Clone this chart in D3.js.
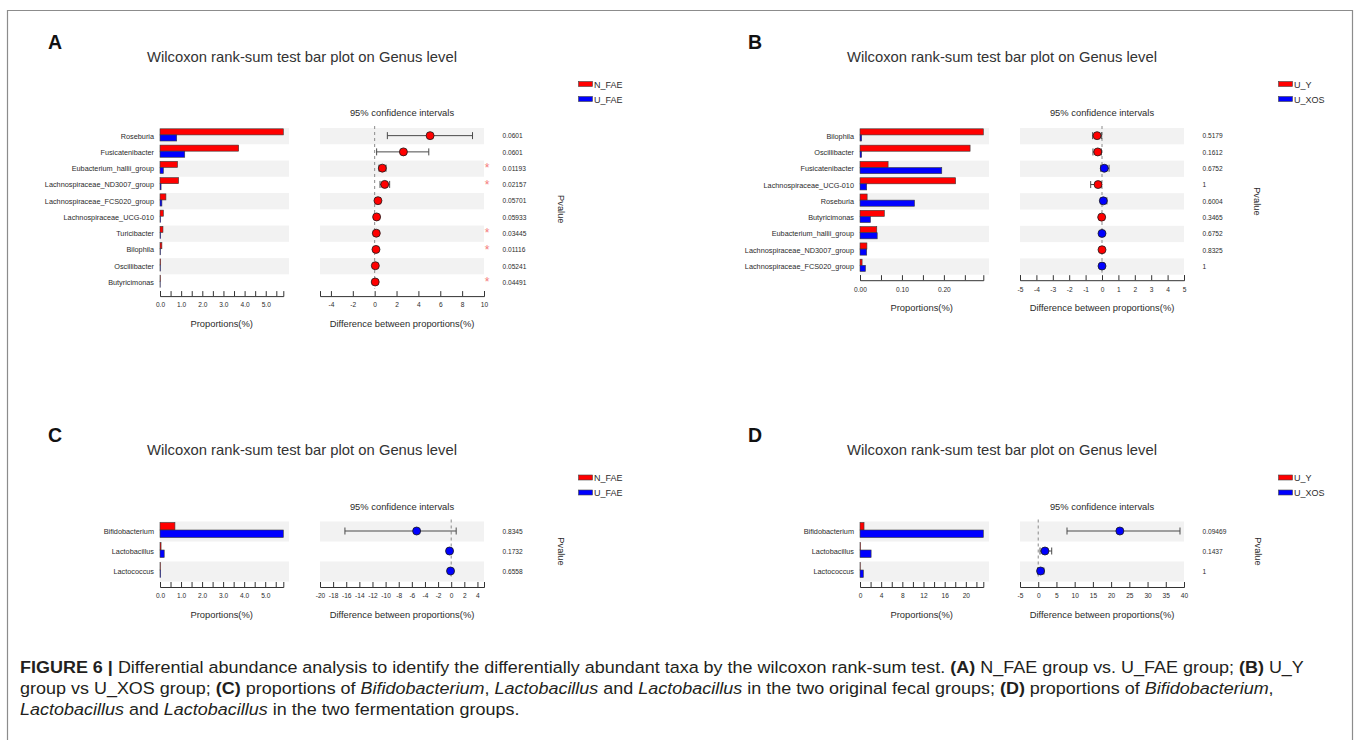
<!DOCTYPE html>
<html>
<head>
<meta charset="utf-8">
<script src="https://cdn.jsdelivr.net/npm/d3@7"></script>
<style>
  html, body { margin: 0; padding: 0; background: #fff; }
  svg { display: block; font-family: "Liberation Sans", Arial, Helvetica, sans-serif; }
</style>
</head>
<body>
<svg id="fig" width="1357" height="740"></svg>
<script>
// ---------- Panel A: N_FAE vs U_FAE (genus level) ----------
const groupsA = ["N_FAE", "U_FAE"];
const genusA = ["Roseburia", "Fusicatenibacter", "Eubacterium_hallii_group", "Lachnospiraceae_ND3007_group",
  "Lachnospiraceae_FCS020_group", "Lachnospiraceae_UCG-010", "Turicibacter", "Bilophila", "Oscillibacter", "Butyricimonas"];
const propA_N = [5.83, 3.72, 0.83, 0.88, 0.28, 0.16, 0.14, 0.09, 0.03, 0.02];
const propA_U = [0.79, 1.17, 0.16, 0.05, 0.09, 0.03, 0.03, 0.02, 0.02, 0.01];
const diffA = [5.07, 2.63, 0.70, 0.92, 0.30, 0.18, 0.15, 0.12, 0.06, 0.05];
const ciLowA = [1.16, 0.18, 0.40, 0.49, 0.10, 0.06, 0.05, 0.03, 0.00, 0.00];
const ciHighA = [8.95, 4.95, 1.04, 1.37, 0.49, 0.30, 0.26, 0.21, 0.12, 0.10];
const pA = ["0.0601", "0.0601", "0.01193", "0.02157", "0.05701", "0.05933", "0.03445", "0.01116", "0.05241", "0.04491"];
const barTicksA = [0, 0.5, 1, 1.5, 2, 2.5, 3, 3.5, 4, 4.5, 5, 5.5];
const barLabelsA = ["0.0", "", "1.0", "", "2.0", "", "3.0", "", "4.0", "", "5.0", ""];
const diffTicksA = [-4, -2, 0, 2, 4, 6, 8, 10];

// ---------- Panel B: U_Y vs U_XOS (genus level) ----------
const groupsB = ["U_Y", "U_XOS"];
const genusB = ["Bilophila", "Oscillibacter", "Fusicatenibacter", "Lachnospiraceae_UCG-010", "Roseburia",
  "Butyricimonas", "Eubacterium_hallii_group", "Lachnospiraceae_ND3007_group", "Lachnospiraceae_FCS020_group"];
const propB_Y = [0.294, 0.2625, 0.067, 0.228, 0.017, 0.058, 0.040, 0.0165, 0.005];
const propB_XOS = [0.004, 0.004, 0.195, 0.016, 0.130, 0.025, 0.041, 0.016, 0.013];
const diffB = [-0.30, -0.26, 0.14, -0.24, 0.08, -0.02, 0.00, 0.00, 0.00];
const ciLowB = [-0.57, -0.55, -0.08, -0.69, -0.06, -0.14, -0.05, -0.04, -0.04];
const ciHighB = [-0.02, -0.04, 0.43, -0.06, 0.30, 0.08, 0.05, 0.04, 0.04];
const pB = ["0.5179", "0.1612", "0.6752", "1", "0.6004", "0.3465", "0.6752", "0.8325", "1"];
const barTicksB = [0, 0.05, 0.10, 0.15, 0.20, 0.25];
const barLabelsB = ["0.00", "", "0.10", "", "0.20", ""];
const diffTicksB = [-5, -4, -3, -2, -1, 0, 1, 2, 3, 4, 5];

// ---------- Panel C: N_FAE vs U_FAE (lactic acid bacteria) ----------
const groupsC = ["N_FAE", "U_FAE"];
const genusC = ["Bifidobacterium", "Lactobacillus", "Lactococcus"];
const propC_N = [0.71, 0.05, 0.02];
const propC_U = [5.86, 0.20, 0.03];
const diffC = [-5.27, -0.25, -0.10];
const ciLowC = [-16.2, -0.50, -0.20];
const ciHighC = [0.76, 0.00, 0.00];
const pC = ["0.8345", "0.1732", "0.6558"];
const barTicksC = [0, 0.5, 1, 1.5, 2, 2.5, 3, 3.5, 4, 4.5, 5, 5.5];
const barLabelsC = ["0.0", "", "1.0", "", "2.0", "", "3.0", "", "4.0", "", "5.0", ""];
const diffTicksC = [-20, -18, -16, -14, -12, -10, -8, -6, -4, -2, 0, 2, 4];

// ---------- Panel D: U_Y vs U_XOS (lactic acid bacteria) ----------
const groupsD = ["U_Y", "U_XOS"];
const genusD = ["Bifidobacterium", "Lactobacillus", "Lactococcus"];
const propD_Y = [0.76, 0.10, 0.05];
const propD_XOS = [23.3, 2.10, 0.63];
const diffD = [22.4, 1.85, 0.65];
const ciLowD = [7.9, 0.50, -0.18];
const ciHighD = [38.9, 3.70, 1.55];
const pD = ["0.09469", "0.1437", "1"];
const barTicksD = [0, 2, 4, 6, 8, 10, 12, 14, 16, 18, 20, 22];
const barLabelsD = ["0", "", "4", "", "8", "", "12", "", "16", "", "20", ""];
const diffTicksD = [-5, 0, 5, 10, 15, 20, 25, 30, 35, 40];

const titleText = "Wilcoxon rank-sum test bar plot on Genus level";
const ciTitle = "95% confidence intervals";
const barAxisTitle = "Proportions(%)";
const diffAxisTitle = "Difference between proportions(%)";

const RED = "#ff0000", BLUE = "#0000ff", SHADE = "#f2f2f2", INK = "#2b2b2b";

const panels = [
  { letter: "A", ox: 0,   oy: 0,     genus: genusA, g1: propA_N, g2: propA_U, diff: diffA, lo: ciLowA, hi: ciHighA, p: pA,
    groups: groupsA, rowH: 16.26, barTicks: barTicksA, barLabels: barLabelsA, diffDomain: [-5, 10], diffTicks: diffTicksA, pvalX: 561.5 },
  { letter: "B", ox: 700, oy: 0,     genus: genusB, g1: propB_Y, g2: propB_XOS, diff: diffB, lo: ciLowB, hi: ciHighB, p: pB,
    groups: groupsB, rowH: 16.3, barTicks: barTicksB, barLabels: barLabelsB, diffDomain: [-5, 5], diffTicks: diffTicksB, pvalX: 557.5 },
  { letter: "C", ox: 0,   oy: 393.5, genus: genusC, g1: propC_N, g2: propC_U, diff: diffC, lo: ciLowC, hi: ciHighC, p: pC,
    groups: groupsC, rowH: 20, barTicks: barTicksC, barLabels: barLabelsC, diffDomain: [-20, 5], diffTicks: diffTicksC, pvalX: 561.5 },
  { letter: "D", ox: 700, oy: 393.5, genus: genusD, g1: propD_Y, g2: propD_XOS, diff: diffD, lo: ciLowD, hi: ciHighD, p: pD,
    groups: groupsD, rowH: 20, barTicks: barTicksD, barLabels: barLabelsD, diffDomain: [-5, 40], diffTicks: diffTicksD, pvalX: 558.5 }
];

const svg = d3.select("#fig");

// outer frame of the figure
svg.append("path")
  .attr("d", "M7.5,745V10.5H1352.5V745")
  .attr("fill", "none").attr("stroke", "#8c8c8c").attr("stroke-width", 1.2);

function drawPanel(cfg) {
  const g = svg.append("g").attr("transform", `translate(${cfg.ox},${cfg.oy})`);
  const n = cfg.genus.length;
  const bandTop = 128;
  const bandBottom = bandTop + n * cfg.rowH;

  const y = d3.scaleBand().domain(d3.range(n)).range([bandTop, bandBottom]).padding(0);
  const xBar = d3.scaleLinear().domain([0, d3.max(cfg.g1.concat(cfg.g2))]).range([160, 283.3]);
  const xDiff = d3.scaleLinear().domain(cfg.diffDomain).range([320, 484]);

  // panel letter and title
  g.append("text").attr("x", 48).attr("y", 48.5).attr("font-size", 19.5).attr("font-weight", "bold")
    .attr("fill", "#111").text(cfg.letter);
  g.append("text").attr("x", 302).attr("y", 61.5).attr("text-anchor", "middle").attr("font-size", 14.8)
    .attr("fill", "#333").text(titleText);

  // legend
  const leg = g.append("g");
  [0, 1].forEach(k => {
    leg.append("rect").attr("x", 578.5).attr("y", 81.5 + k * 15).attr("width", 14).attr("height", 5)
      .attr("fill", k === 0 ? RED : BLUE).attr("stroke", "#444").attr("stroke-width", 0.6);
    leg.append("text").attr("x", 594).attr("y", 87.6 + k * 15).attr("font-size", 9).attr("fill", INK)
      .text(cfg.groups[k]);
  });

  // shaded row stripes
  const rows = d3.range(n).filter(i => i % 2 === 0);
  g.selectAll("rect.stripeBar").data(rows).join("rect").attr("class", "stripeBar")
    .attr("x", 160).attr("width", 129).attr("y", i => y(i)).attr("height", y.bandwidth()).attr("fill", SHADE);
  g.selectAll("rect.stripeDiff").data(rows).join("rect").attr("class", "stripeDiff")
    .attr("x", 320).attr("width", 164).attr("y", i => y(i)).attr("height", y.bandwidth()).attr("fill", SHADE);

  // row labels
  g.selectAll("text.genus").data(cfg.genus).join("text").attr("class", "genus")
    .attr("x", 154).attr("y", (d, i) => y(i) + y.bandwidth() / 2 + 2.5)
    .attr("text-anchor", "end").attr("font-size", 7.3).attr("fill", INK).text(d => d);

  // paired proportion bars
  const h = y.bandwidth();
  const barH = 0.375 * h;
  g.selectAll("rect.g1").data(cfg.g1).join("rect").attr("class", "g1")
    .attr("x", xBar(0)).attr("y", (d, i) => y(i) + 0.05 * h)
    .attr("width", d => xBar(d) - xBar(0)).attr("height", barH)
    .attr("fill", RED).attr("stroke", "#3a3a3a").attr("stroke-width", 0.6);
  g.selectAll("rect.g2").data(cfg.g2).join("rect").attr("class", "g2")
    .attr("x", xBar(0)).attr("y", (d, i) => y(i) + 0.05 * h + barH)
    .attr("width", d => xBar(d) - xBar(0)).attr("height", barH)
    .attr("fill", BLUE).attr("stroke", "#3a3a3a").attr("stroke-width", 0.6);

  // zero reference line
  g.append("line").attr("x1", xDiff(0)).attr("x2", xDiff(0)).attr("y1", bandTop - 2).attr("y2", bandBottom - 2)
    .attr("stroke", "#8a8a8a").attr("stroke-width", 1).attr("stroke-dasharray", "3,3");

  // confidence intervals and point estimates
  const cy = i => y(i) + h / 2 - 0.5;
  const ci = g.selectAll("g.ci").data(d3.range(n)).join("g").attr("class", "ci");
  ci.append("line").attr("x1", i => xDiff(cfg.lo[i])).attr("x2", i => xDiff(cfg.hi[i]))
    .attr("y1", cy).attr("y2", cy).attr("stroke", "#4a4a4a").attr("stroke-width", 1);
  ci.append("line").attr("x1", i => xDiff(cfg.lo[i])).attr("x2", i => xDiff(cfg.lo[i]))
    .attr("y1", i => cy(i) - 3.5).attr("y2", i => cy(i) + 3.5).attr("stroke", "#4a4a4a").attr("stroke-width", 1);
  ci.append("line").attr("x1", i => xDiff(cfg.hi[i])).attr("x2", i => xDiff(cfg.hi[i]))
    .attr("y1", i => cy(i) - 3.5).attr("y2", i => cy(i) + 3.5).attr("stroke", "#4a4a4a").attr("stroke-width", 1);
  ci.append("circle").attr("cx", i => xDiff(cfg.diff[i])).attr("cy", cy).attr("r", 4)
    .attr("fill", i => (cfg.g1[i] >= cfg.g2[i] ? RED : BLUE)).attr("stroke", "#1a1a1a").attr("stroke-width", 0.8);

  // p-values and significance marks
  g.selectAll("text.pval").data(cfg.p).join("text").attr("class", "pval")
    .attr("x", 502.5).attr("y", (d, i) => y(i) + h / 2 + 2.3).attr("font-size", 6.6).attr("fill", INK).text(d => d);
  g.selectAll("text.star").data(cfg.p.map((d, i) => ({ v: +d, i })).filter(d => d.v < 0.05)).join("text")
    .attr("class", "star").attr("x", 487).attr("y", d => y(d.i) + h / 2 + 3.6)
    .attr("text-anchor", "middle").attr("font-size", 12).attr("fill", "#f47c7c").text("*");

  g.append("text").attr("transform", `translate(${cfg.pvalX},${(bandTop + bandBottom) / 2}) rotate(90)`)
    .attr("text-anchor", "middle").attr("dy", "0.35em").attr("font-size", 9.3).attr("fill", INK).text("Pvalue");

  // axes
  const axisY = bandBottom + 5.5;
  const barAxis = d3.axisBottom(xBar).tickValues(cfg.barTicks).tickFormat((d, i) => cfg.barLabels[i])
    .tickSizeInner(-5).tickSizeOuter(-5).tickPadding(6.7);
  const diffAxis = d3.axisBottom(xDiff).tickValues(cfg.diffTicks).tickFormat(d => d)
    .tickSizeInner(-5).tickSizeOuter(-5).tickPadding(6.7);
  [[barAxis, "barAxis"], [diffAxis, "diffAxis"]].forEach(([ax, cls]) => {
    const a = g.append("g").attr("class", cls).attr("transform", `translate(0,${axisY})`).call(ax);
    a.attr("font-size", null).attr("font-family", null);
    a.selectAll("text").attr("font-size", 6.6).attr("fill", INK);
    a.selectAll("line").attr("stroke", "#333");
    a.select(".domain").attr("stroke", "#333");
  });

  g.append("text").attr("x", (xBar.range()[0] + xBar.range()[1]) / 2).attr("y", bandBottom + 36)
    .attr("text-anchor", "middle").attr("font-size", 9.4).attr("fill", INK).text(barAxisTitle);
  g.append("text").attr("x", 402).attr("y", bandBottom + 36)
    .attr("text-anchor", "middle").attr("font-size", 9.4).attr("fill", INK).text(diffAxisTitle);
  g.append("text").attr("x", 402).attr("y", 116).attr("text-anchor", "middle").attr("font-size", 9.4)
    .attr("fill", INK).text(ciTitle);
}

panels.forEach(drawPanel);

// ---------- figure caption ----------
const captionLines = [
  [["b", "FIGURE 6 |"], ["n", " Differential abundance analysis to identify the differentially abundant taxa by the wilcoxon rank-sum test. "],
   ["b", "(A)"], ["n", " N_FAE group vs. U_FAE group; "], ["b", "(B)"], ["n", " U_Y"]],
  [["n", "group vs U_XOS group; "], ["b", "(C)"], ["n", " proportions of "], ["i", "Bifidobacterium"], ["n", ", "],
   ["i", "Lactobacillus"], ["n", " and "], ["i", "Lactobacillus"], ["n", " in the two original fecal groups; "],
   ["b", "(D)"], ["n", " proportions of "], ["i", "Bifidobacterium"], ["n", ","]],
  [["i", "Lactobacillus"], ["n", " and "], ["i", "Lactobacillus"], ["n", " in the two fermentation groups."]]
];
const captionBaselines = [673, 694, 715];
const cap = svg.append("g").attr("class", "caption");
const capTexts = captionLines.map((parts, li) => {
  const t = cap.append("text").attr("x", 20).attr("y", captionBaselines[li])
    .attr("font-size", 17).attr("fill", "#231f20")
    .attr("font-family", "'Liberation Sans Narrow', 'Liberation Sans', Arial, sans-serif");
  parts.forEach(([style, str]) => {
    const s = t.append("tspan").text(str);
    if (style === "b") s.attr("font-weight", "bold");
    if (style === "i") s.attr("font-style", "italic");
  });
  return t;
});
// condense the caption so the first line spans the text block width
const firstWidth = capTexts[0].node().getComputedTextLength();
const sx = 1285 / firstWidth;
capTexts.forEach(t => t.attr("transform", `translate(20,0) scale(${sx},1) translate(-20,0)`));
</script>
</body>
</html>
